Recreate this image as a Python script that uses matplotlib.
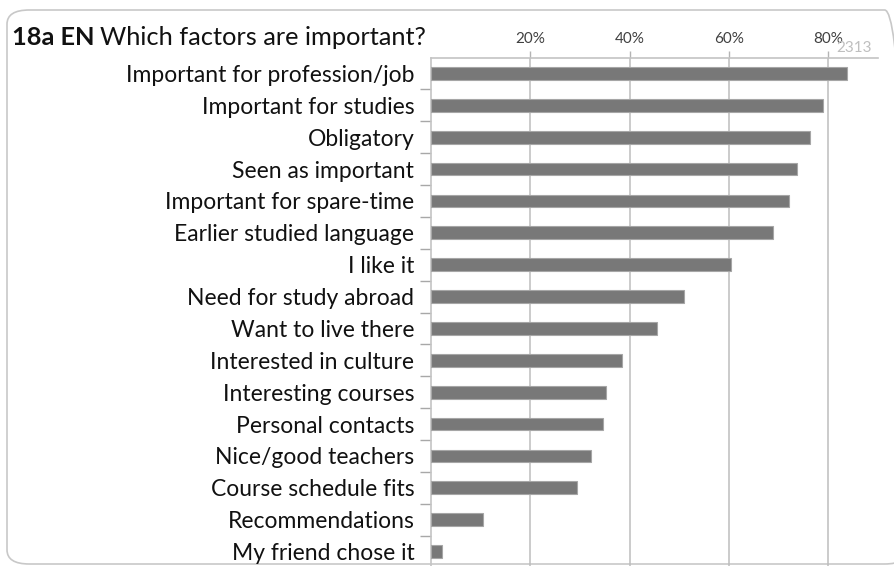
import numpy as np
import matplotlib
matplotlib.use("Agg")
from matplotlib import pyplot as plt
from matplotlib.patches import FancyBboxPatch
from matplotlib.ticker import FixedLocator, FuncFormatter

factors = ['Important for profession/job', 'Important for studies', 'Obligatory',
           'Seen as important', 'Important for spare-time', 'Earlier studied language',
           'I like it', 'Need for study abroad', 'Want to live there',
           'Interested in culture', 'Interesting courses', 'Personal contacts',
           'Nice/good teachers', 'Course schedule fits', 'Recommendations',
           'My friend chose it']
share = [83.7, 78.9, 76.3, 73.6, 72.0, 68.9, 60.5, 51.0, 45.5,
         38.5, 35.2, 34.6, 32.2, 29.4, 10.5, 2.3]
pct_ticks = [20, 40, 60, 80]
n_resp = '2313'

plt.rcParams['font.family'] = ['Lato', 'DejaVu Sans']

fig = plt.figure(figsize=(8.94, 5.66), dpi=100)
W, H = 894, 566

# rounded frame around the whole chart
frame = FancyBboxPatch((7 / W, 2 / H), 900 / W, 554 / H,
                       boxstyle='round,pad=0,rounding_size=0.025',
                       transform=fig.transFigure, fc='none', ec='#c8c8c8', lw=1.2,
                       zorder=-1)
fig.patches.append(frame)

ax = fig.add_axes([431 / W, -1.5 / H, 447 / W, 510 / H])
y = np.arange(len(factors))
ax.barh(y, share, height=0.4, color='#787878', edgecolor='#a6a6a6', linewidth=0.8, zorder=3)

ax.set_xlim(0, 90)
ax.set_ylim(len(factors) - 0.5, -0.5)
ax.xaxis.set_major_locator(FixedLocator(pct_ticks))
ax.xaxis.set_major_formatter(FuncFormatter(lambda v, p: '{:.0f}%'.format(v)))
ax.xaxis.tick_top()
ax.tick_params(axis='x', direction='out', length=5, width=1, color='#b4b4b4',
               labelsize=11, labelcolor='#404040', pad=3)
ax.grid(axis='x', color='#bdbdbd', linewidth=1.1, zorder=0)

ax.set_yticks(y)
ax.set_yticklabels(factors, fontsize=16.5, color='#111111')
ax.yaxis.set_minor_locator(FixedLocator(np.arange(len(factors)) + 0.5))
ax.tick_params(axis='y', which='major', length=0, pad=12)
ax.tick_params(axis='y', which='minor', length=8, width=1, color='#a8a8a8')

for s in ['right', 'bottom']:
    ax.spines[s].set_visible(False)
ax.spines['top'].set_color('#c4c4c4')
ax.spines['top'].set_linewidth(1.2)
ax.spines['left'].set_color('#c4c4c4')
ax.spines['left'].set_linewidth(1.2)
ax.set_facecolor('none')

# title in two parts: bold code then the question
t1 = fig.text(12 / W, 1 - 45 / H, '18a EN', fontsize=18.3, fontweight='bold', color='#111111')
fig.canvas.draw()
bb = t1.get_window_extent()
fig.text((bb.x1 + 6) / W, 1 - 45 / H, 'Which factors are important?', fontsize=18.3, color='#111111')

fig.text(872 / W, 1 - 52 / H, n_resp, fontsize=11, color='#bfbfbf', ha='right')

fig.savefig('out.png', dpi=100)
